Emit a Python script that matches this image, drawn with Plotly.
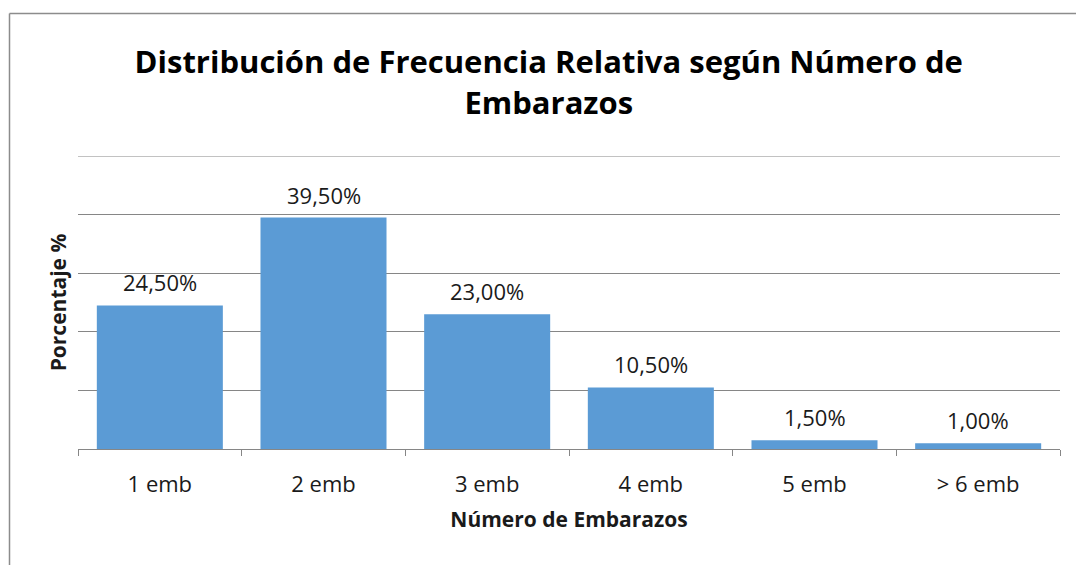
import plotly.graph_objects as go

categories = ["1 emb", "2 emb", "3 emb", "4 emb", "5 emb", "> 6 emb"]
values = [24.5, 39.5, 23.0, 10.5, 1.5, 1.0]
labels = ["24,50%", "39,50%", "23,00%", "10,50%", "1,50%", "1,00%"]

FONT = "Open Sans, Liberation Sans, sans-serif"
W, H = 1076, 565
ml, mr, mt, mb = 78, 16, 156, 116
pw, ph = W - ml - mr, H - mt - mb

fig = go.Figure(go.Bar(x=categories, y=values, marker_color="#5B9BD5",
                       marker_line_width=0))

for c, v, t in zip(categories, values, labels):
    fig.add_annotation(x=c, y=v, text=t, showarrow=False, yanchor="bottom",
                       yshift=6, font=dict(family=FONT, size=22, color="#1a1a1a"))

fig.update_layout(
    width=W, height=H,
    margin=dict(l=ml, r=mr, t=mt, b=mb),
    paper_bgcolor="white", plot_bgcolor="white",
    bargap=0.23,
    showlegend=False,
    title=dict(text="Distribución de Frecuencia Relativa según Número de<br>Embarazos",
               x=0.51, xanchor="center", y=0.87, yanchor="top",
               font=dict(family=FONT, size=31, color="black", weight="bold")),
    xaxis=dict(showline=True, linecolor="#868686", linewidth=1,
               ticks="outside", tickson="boundaries", ticklen=6, tickcolor="#868686",
               ticklabelstandoff=16,
               tickfont=dict(family=FONT, size=22, color="#1a1a1a"),
               title=dict(text="Número de Embarazos", standoff=14,
                          font=dict(family=FONT, size=21, color="#1a1a1a", weight="bold"))),
    yaxis=dict(range=[0, 50], dtick=10, showticklabels=False, showgrid=True,
               gridcolor="#868686", gridwidth=1, zeroline=False, showline=False,
               title=dict(text="Porcentaje %", standoff=4,
                          font=dict(family=FONT, size=21, color="#1a1a1a", weight="bold"))),
)

# top gridline at the range end (plotly clips gridlines at range ends)
fig.add_shape(type="line", xref="paper", yref="y", x0=0, x1=1, y0=50, y1=50,
              line=dict(color="#868686", width=1), layer="below")

# chart frame (left and top edges visible)
fig.add_shape(type="line", xref="paper", yref="paper",
              x0=(9.5 - ml) / pw, x1=(W + 5 - ml) / pw,
              y0=(H - mb - 13.5) / ph, y1=(H - mb - 13.5) / ph,
              line=dict(color="#8c8c8c", width=1.5))
fig.add_shape(type="line", xref="paper", yref="paper",
              x0=(9.5 - ml) / pw, x1=(9.5 - ml) / pw,
              y0=(H - mb - 13.5) / ph, y1=(-mb - 5) / ph,
              line=dict(color="#8c8c8c", width=1.5))

fig.write_html("out.html", config={"displayModeBar": False},
               post_script="document.body.style.margin='0';")
